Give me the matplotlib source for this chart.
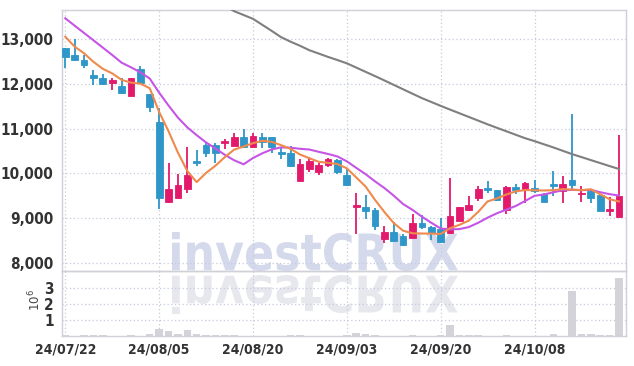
import numpy as np
import matplotlib.pyplot as plt
from matplotlib.textpath import TextPath
from matplotlib.font_manager import FontProperties
from matplotlib.patches import PathPatch
from matplotlib.transforms import Affine2D, IdentityTransform

# daily OHLC, 60 trading days from 24/07/22
opens = [12790, 12640, 12530, 12190, 12120, 12010, 11950, 11735, 12320, 11770,
         11140, 9355, 9460, 9645, 10260, 10630, 10630, 10680, 10620, 10805,
         10600, 10820, 10805, 10485, 10460, 9840, 10100, 10040, 10190, 10300,
         9965, 9250, 9245, 9180, 8530, 8685, 8600, 8565, 8885, 8810,
         8750, 8665, 8940, 9175, 9460, 9650, 9630, 9180, 9690, 9645,
         9675, 9540, 9765, 9615, 9855, 9530, 9615, 9520, 9170, 9035]
highs = [12800, 13010, 12640, 12310, 12210, 12140, 12120, 12125, 12400, 11780,
         11470, 10240, 9980, 10600, 10530, 10670, 10670, 10760, 10910, 10985,
         10910, 10895, 10810, 10575, 10610, 10315, 10360, 10240, 10350, 10320,
         10090, 9555, 9520, 9220, 8835, 8920, 8650, 9090, 9070, 8830,
         9000, 9890, 9260, 9495, 9725, 9830, 9640, 9720, 9755, 9800,
         9850, 9560, 10055, 9950, 11320, 9725, 9660, 9530, 9480, 10860]
lows = [12350, 12500, 12350, 11970, 11970, 11860, 11770, 11720, 12020, 11380,
        9200, 9340, 9440, 9555, 10160, 10370, 10240, 10545, 10610, 10580,
        10590, 10575, 10460, 10315, 10150, 9830, 10040, 9965, 10135, 9980,
        9720, 8650, 8975, 8740, 8440, 8480, 8400, 8560, 8760, 8515,
        8450, 8640, 8930, 9170, 9385, 9570, 9380, 9090, 9540, 9335,
        9555, 9365, 9505, 9335, 9645, 9370, 9335, 9160, 9050, 9030]
closes = [12590, 12520, 12430, 12140, 11990, 12080, 11800, 12120, 12025, 11475,
          9440, 9645, 9740, 9965, 10240, 10460, 10450, 10700, 10805, 10585,
          10835, 10710, 10585, 10435, 10175, 10210, 10285, 10190, 10315, 10040,
          9740, 9265, 9170, 8835, 8685, 8500, 8410, 8885, 8810, 8675,
          8460, 9055, 9255, 9285, 9645, 9630, 9395, 9690, 9630, 9795,
          9605, 9370, 9720, 9755, 9740, 9550, 9460, 9170, 9190, 9495]
# volume in millions of shares
volumes = [0.08, 0.03, 0.05, 0.07, 0.07, 0.03, 0.02, 0.04, 0.03, 0.12,
           0.45, 0.32, 0.14, 0.36, 0.13, 0.07, 0.04, 0.06, 0.06, 0.03,
           0.03, 0.02, 0.03, 0.02, 0.05, 0.05, 0.02, 0.02, 0.02, 0.03,
           0.05, 0.16, 0.10, 0.09, 0.03, 0.02, 0.03, 0.08, 0.03, 0.03,
           0.05, 0.70, 0.06, 0.07, 0.07, 0.03, 0.03, 0.08, 0.03, 0.03,
           0.03, 0.02, 0.15, 0.03, 2.80, 0.15, 0.10, 0.05, 0.06, 3.65]

# moving averages as shown on the chart
ma5 = [13050, 12830, 12680, 12490, 12334, 12232, 12088, 12026, 12003, 11900,
       11372, 10941, 10465, 10053, 9806, 10010, 10171, 10363, 10531, 10600,
       10675, 10727, 10704, 10630, 10548, 10423, 10338, 10259, 10235, 10208,
       10114, 9910, 9706, 9410, 9139, 8891, 8720, 8663, 8658, 8656,
       8648, 8777, 8851, 8946, 9140, 9374, 9442, 9529, 9598, 9628,
       9623, 9618, 9624, 9649, 9638, 9627, 9645, 9535, 9422, 9373]
ma10 = [13462, 13297, 13134, 12971, 12807, 12643, 12471, 12368, 12256, 12117,
        11802, 11515, 11246, 11028, 10853, 10691, 10556, 10414, 10292, 10203,
        10343, 10449, 10534, 10581, 10574, 10549, 10533, 10482, 10433, 10378,
        10269, 10124, 9983, 9823, 9674, 9503, 9315, 9185, 9034, 8898,
        8770, 8749, 8757, 8802, 8898, 9011, 9110, 9190, 9272, 9384,
        9499, 9530, 9577, 9624, 9633, 9625, 9632, 9580, 9536, 9506]
ma60 = [np.nan] * 16 + [
        13860, 13740, 13620, 13535, 13450, 13315, 13180, 13040,
        12940, 12850, 12750, 12675, 12600, 12530, 12457, 12362, 12267, 12172,
        12075, 11976, 11877, 11778, 11680, 11594, 11507, 11424, 11342, 11260,
        11178, 11095, 11017, 10940, 10862, 10785, 10720, 10650, 10580, 10505,
        10430, 10364, 10297, 10230, 10163, 10098]

tick_pos = [0, 10, 20, 30, 40, 50]
tick_labels = ['24/07/22', '24/08/05', '24/08/20', '24/09/03', '24/09/20', '24/10/08']
price_ticks = [8000, 9000, 10000, 11000, 12000, 13000]
vol_ticks = [1, 2, 3]

UP = '#e3196b'
DOWN = '#2e96c8'
GRID = '#c6cade'
SPINE = '#cfd0d8'
LABEL_FONT = dict(fontfamily='DejaVu Sans', fontstretch='condensed',
                  fontweight='bold')

W, H = 634, 366
fig = plt.figure(figsize=(W / 100, H / 100), dpi=100)
fig.patch.set_facecolor('white')

ax = fig.add_axes([62 / W, 1 - 271 / H, 564 / W, 261 / H])
axv = fig.add_axes([62 / W, 1 - 336 / H, 564 / W, 65 / H], sharex=ax)
for a in (ax, axv):
    a.set_facecolor('none')
    for s in a.spines.values():
        s.set_color(SPINE)
        s.set_linewidth(1.0)
    a.tick_params(length=0, pad=6, labelcolor='#333333')
    a.grid(True, color=GRID, linestyle=(0, (1, 2)), linewidth=0.9)
    a.set_axisbelow(True)

x = np.arange(len(closes))
o = np.array(opens)
c = np.array(closes)
colors = [UP if cc >= oo else DOWN for oo, cc in zip(o, c)]

# wicks + bodies
ax.vlines(x, lows, highs, colors=colors, linewidth=1.3, zorder=2)
body_low = np.minimum(o, c)
body_h = np.maximum(np.abs(c - o), 35)
ax.bar(x, body_h, bottom=body_low, width=0.72, color=colors,
       edgecolor=colors, linewidth=0.6, zorder=3)

ax.plot(x, ma60, color='#7f7f7f', linewidth=1.5, zorder=4)
ax.plot(x, ma10, color='#c655e6', linewidth=1.5, zorder=4)
ax.plot(x, ma5, color='#ef8a4c', linewidth=1.5, zorder=4)

ax.set_xlim(-0.35, 59.75)
ax.set_ylim(7821, 13647)
ax.set_yticks(price_ticks)
ax.set_yticklabels([f'{v:,}' for v in price_ticks], fontsize=11, **LABEL_FONT)
ax.set_xticks(tick_pos)
ax.tick_params(axis='x', labelbottom=False)

axv.bar(x, volumes, width=0.8, color='#d3d3d9', zorder=2)
axv.set_ylim(0, 4.06)
axv.set_yticks(vol_ticks)
axv.set_yticklabels([str(v) for v in vol_ticks], fontsize=11, **LABEL_FONT)
axv.set_xticks(tick_pos)
axv.set_xticklabels(tick_labels, fontsize=10, **LABEL_FONT)
axv.tick_params(axis='x', pad=5)
fig.text(35 / W, 1 - 300 / H, '$10^6$', rotation=90, ha='center', va='center',
         fontsize=8.5, color='#444444')

# watermark and its reflection, behind the axes
fp = FontProperties(family='DejaVu Sans', weight='bold')
tp = TextPath((0, 0), 'investCRUX', size=100, prop=fp)
bb = tp.get_extents()
sx = (458 - 172) / bb.width
sy = (271 - 232) / bb.height
base = Affine2D().translate(-bb.x0, -bb.y0)
wm = base + Affine2D().scale(sx, sy).translate(172, H - 271)
refl = base + Affine2D().scale(sx, -sy).translate(172, H - 275)
fig.add_artist(PathPatch(wm.transform_path(tp), facecolor='#d4d9eb',
                         edgecolor='none', transform=IdentityTransform(), zorder=-1))
fig.add_artist(PathPatch(refl.transform_path(tp), facecolor='#e7e7ee',
                         edgecolor='none', transform=IdentityTransform(), zorder=-1))

fig.savefig('out.png', dpi=100)
